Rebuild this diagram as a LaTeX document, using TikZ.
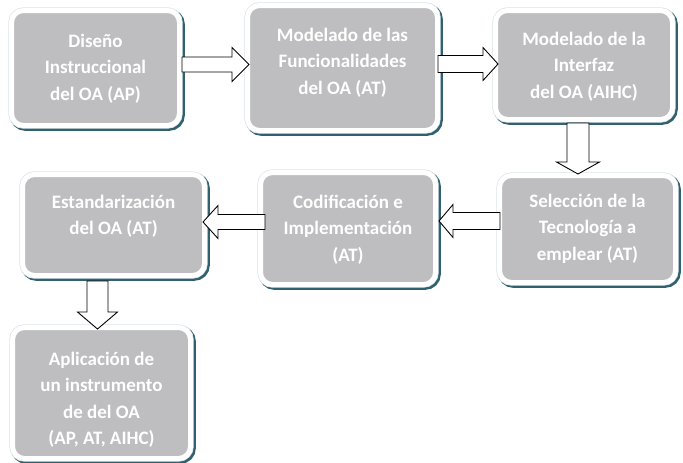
\documentclass[tikz,border=0pt]{standalone}
\usepackage{fontspec}
\setmainfont{Carlito}
\usetikzlibrary{calc}
\definecolor{boxgray}{HTML}{BEBDBF}
\definecolor{shadowteal}{HTML}{31606F}
\definecolor{edgegray}{HTML}{DCE4E8}
\tikzset{
  box/.style={rectangle, rounded corners=12pt, inner sep=0pt, outer sep=0pt,
    fill=boxgray, draw=white, line width=5pt,
    preaction={draw=shadowteal, line width=7pt, transform canvas={shift={(1.8pt,-1.8pt)}}},
    preaction={draw=edgegray, line width=6.4pt}},
  lbl/.style={align=center, inner sep=0pt, text=white,
    font=\bfseries\fontsize{19}{26.5}\selectfont},
  blockarrow/.style n args={3}{draw=black, fill=white, line width=0.9pt, line join=miter,
    to path={($(\tikztotarget)!#3!(\tikztostart)$) coordinate (ah)
      ($(\tikztostart)!#1!90:(\tikztotarget)$) -- ($(ah)!#1!90:(\tikztotarget)$)
      -- ($(ah)!#2!90:(\tikztotarget)$) -- (\tikztotarget)
      -- ($(ah)!#2!-90:(\tikztotarget)$) -- ($(ah)!#1!-90:(\tikztotarget)$)
      -- ($(\tikztostart)!#1!-90:(\tikztotarget)$) -- cycle}}
}
\begin{document}
\begin{tikzpicture}[x=1pt, y=-1pt]
\useasboundingbox (0,0) rectangle (683,463);
% boxes
\node[box, minimum width=168pt, minimum height=115pt] (b1) at (95.5,68) {};
\node[box, minimum width=190pt, minimum height=125pt] (b2) at (342.5,68) {};
\node[box, minimum width=177pt, minimum height=109pt] (b3) at (584,65) {};
\node[box, minimum width=176pt, minimum height=107pt] (b4) at (587.5,229) {};
\node[box, minimum width=175pt, minimum height=112pt] (b5) at (348,228.5) {};
\node[box, minimum width=182pt, minimum height=101pt] (b6) at (113.5,225) {};
\node[box, minimum width=178pt, minimum height=131pt] (b7) at (101.5,393) {};
% labels (anchor = baseline of last line)
\node[lbl, anchor=base] (t1) at (95.5,100) {Diseño\\Instruccional\\del OA (AP)};
\node[lbl, anchor=base] (t2) at (342.5,94) {Modelado de las\\Funcionalidades\\del OA (AT)};
\node[lbl, anchor=base] (t3) at (584,98) {Modelado de la\\Interfaz\\del OA (AIHC)};
\node[lbl, anchor=base] (t4) at (587.5,260) {Selección de la\\Tecnología a\\emplear (AT)};
\node[lbl, anchor=base] (t5) at (348,261) {Codificación e\\Implementación\\(AT)};
\node[lbl, anchor=base] (t6) at (113.5,234.5) {Estandarización\\del OA (AT)};
\node[lbl, anchor=base] (t7) at (101.5,444.5) {Aplicación de\\un instrumento\\de del OA\\(AP, AT, AIHC)};
% arrow ends
\coordinate (a1s) at ($(b1.east)+(2.5,-3.5)$);
\coordinate (a1e) at ($(b2.west)+(1.5,-3.5)$);
\coordinate (a2s) at ($(b2.east)+(0.5,-4)$);
\coordinate (a2e) at ($(b3.west)+(2.5,-1)$);
\coordinate (a3s) at ($(b3.south)+(-6,3.5)$);
\coordinate (a3e) at ($(b4.north)+(-9.5,-1.5)$);
\coordinate (a4s) at ($(b4.west)+(0.5,-8)$);
\coordinate (a4e) at ($(b5.east)+(3.5,-7.5)$);
\coordinate (a5s) at ($(b5.west)+(4.5,-6.5)$);
\coordinate (a5e) at ($(b6.east)+(-1.5,-3)$);
\coordinate (a6s) at ($(b6.south)+(-16,5.5)$);
\coordinate (a6e) at ($(b7.north)+(-4,1.5)$);
% arrows
\draw[blockarrow={7.5pt}{17pt}{17pt}] (a1s) to (a1e);
\draw[blockarrow={8.5pt}{16.5pt}{15pt}] (a2s) to (a2e);
\draw[blockarrow={11pt}{21.5pt}{12pt}] (a3s) to (a3e);
\draw[blockarrow={8.5pt}{16.5pt}{14pt}] (a4s) to (a4e);
\draw[blockarrow={7.5pt}{16.5pt}{15pt}] (a5s) to (a5e);
\draw[blockarrow={10.5pt}{20pt}{17pt}] (a6s) to (a6e);
\end{tikzpicture}
\end{document}
